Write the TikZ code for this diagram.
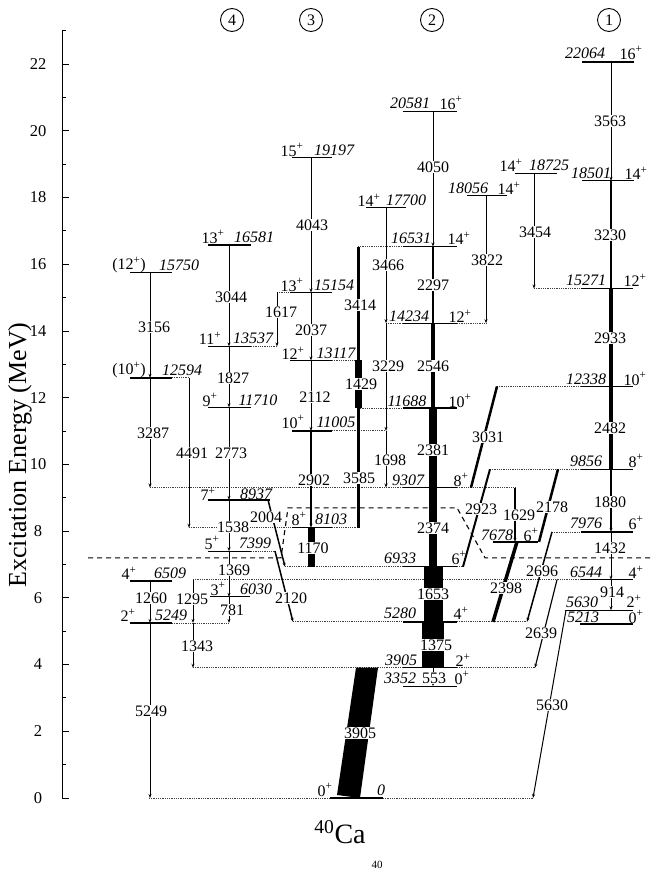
\documentclass[tikz,border=0pt]{standalone}
\usepackage{fontspec}
\setmainfont{Liberation Serif}
\usetikzlibrary{arrows.meta}
\newcommand{\Ey}[1]{\fpeval{798-0.03336*(#1)}}
\newcommand{\fs}{\fontsize{16}{17}\selectfont}
\newcommand{\spin}[1]{#1\textsuperscript{+}}
\newcommand{\lv}[3]{\draw[lev] (#1,{\Ey{#3}}) -- (#2,{\Ey{#3}});}
\newcommand{\dx}[3]{\draw[ext] (#1,{\Ey{#3}}) -- (#2,{\Ey{#3}});}
\newcommand{\tv}[3]{\draw[trn] (#1,{\Ey{#2}}) -- (#1,{\Ey{#3}});}
\newcommand{\tb}[4]{\draw[line width=#4] (#1,{\Ey{#2}}) -- (#1,{\Ey{#3}});}
\newcommand{\ts}[5]{\draw[trn, line width=#5] (#1,{\Ey{#2}}) -- (#3,{\Ey{#4}});}
\newcommand{\tsb}[5]{\draw[line width=#5] (#1,{\Ey{#2}}) -- (#3,{\Ey{#4}});}
\newcommand{\en}[3]{\node[el] (e#1) at (#2,#3) {#1};}
\newcommand{\sn}[4]{\node[sl] (s#1) at (#2,#3) {#4};}
\newcommand{\gn}[3]{\node[gl] (g#1) at (#2,#3) {#1};}
\tikzset{
  lev/.style={line width=1.3pt},
  ext/.style={line width=0.8pt, densely dotted, black!75},
  trn/.style={line width=1pt, -{Stealth[length=4pt,width=3pt]}},
  gl/.style={fill=white, inner sep=0.3pt, font=\fs},
  el/.style={inner sep=0pt, font=\fs\itshape},
  sl/.style={inner sep=0pt, font=\fs},
  colnum/.style={draw, circle, inner sep=0pt, minimum size=23pt, line width=0.9pt, font=\fs}
}
\begin{document}
\begin{tikzpicture}[x=1pt,y=-1pt]
\useasboundingbox (0,0) rectangle (654,870);

% axis
\draw[line width=1pt] (62,798) -- (62,{798-33.36*23});
\foreach \v in {0,2,...,22} {
  \draw[line width=0.9pt] (62,{798-33.36*\v}) -- ++(7,0);
  \node[font=\fontsize{16.5}{17}\selectfont] (t\v) at (38,{798-33.36*\v}) {\v};
}
\foreach \v in {1,3,...,23} \draw[line width=0.9pt] (62,{798-33.36*\v}) -- ++(4,0);
\node[rotate=90, font=\fontsize{26}{26}\selectfont] (ylab) at (20,455) {Excitation Energy (MeV)};

% column numbers
\node[colnum] (c4) at (232,20) {4};
\node[colnum] (c3) at (311,20) {3};
\node[colnum] (c2) at (432,20) {2};
\node[colnum] (c1) at (609,20) {1};

% dotted extensions
\dx{534}{581}{15271} \dx{497}{581}{12338} \dx{490}{581}{9856} \dx{552}{581}{7976}
\dx{193}{581}{6544}
\dx{358}{403}{16531} \dx{386}{403}{14234} \dx{457}{486}{14234} \dx{358}{403}{11688}
\dx{150}{403}{9307} \dx{457}{515}{9307} \dx{285}{403}{6933} \dx{457}{463}{6933}
\dx{293}{403}{5280} \dx{457}{527}{5280} \dx{193}{403}{3905} \dx{457}{535}{3905}
\dx{149}{330}{0} \dx{383}{533}{0}
\dx{277}{290}{15154} \dx{332}{358}{13117} \dx{332}{386}{11005} \dx{189}{292}{8103} \dx{332}{358}{8103}
\dx{251}{277}{13537} \dx{251}{275}{7399}
\dx{172}{189}{12594} \dx{172}{229}{5249}

% dashed line
\draw[line width=1.1pt, dash pattern=on 5pt off 4pt] (88,557.8) -- (281,557.8) -- (288,507.8) -- (457,507.8) -- (485,557.8) -- (654,557.8);

% levels
\lv{582}{634}{22064} \lv{582}{634}{18501} \lv{581}{633}{15271} \lv{581}{633}{12338}
\lv{581}{633}{9856} \lv{581}{633}{7976} \lv{581}{633}{6544} \lv{565}{633}{5630} \lv{580}{633}{5213}
\lv{515}{557}{18725} \lv{467}{507}{18056} \lv{493}{538}{7678}
\lv{403}{457}{20581} \lv{366}{406}{17700} \lv{403}{457}{16531} \lv{403}{457}{14234}
\lv{403}{457}{11688} \lv{403}{457}{9307} \lv{403}{457}{6933} \lv{403}{457}{5280}
\lv{403}{457}{3905} \lv{403}{457}{3352} \lv{330}{383}{0}
\lv{292}{332}{19197} \lv{290}{332}{15154} \lv{290}{332}{13117} \lv{292}{332}{11005} \lv{292}{332}{8103}
\lv{208}{251}{16581} \lv{208}{251}{13537} \lv{208}{251}{11710} \lv{208}{270}{8937}
\lv{208}{251}{7399} \lv{210}{250}{6030}
\lv{130}{172}{15750} \lv{130}{172}{12594} \lv{130}{172}{6509} \lv{130}{172}{5249}

% thin transitions
\tv{611}{22064}{18501} \tv{534}{18725}{15271} \tv{486}{18056}{14234}
\draw[trn, line width=1.3pt] (611,{\Ey{9856}}) -- (611,{\Ey{7976}});
\tv{611}{7976}{6544} \tv{611}{6544}{5630}
\draw[trn, line width=1.3pt] (515,{\Ey{9307}}) -- (515,{\Ey{7678}});
\tv{433}{20581}{16531} \tv{433}{3905}{3352}
\tv{386}{17700}{14234} \tv{386}{14234}{11005} \tv{386}{11005}{9307}
\tv{311}{19197}{15154} \tv{311}{15154}{13117} \tv{311}{13117}{11005}
\draw[trn, line width=1.5pt] (311,{\Ey{11005}}) -- (311,{\Ey{8103}});
\tv{277}{15154}{13537}
\tv{229}{16581}{13537} \tv{229}{13537}{11710} \tv{229}{11710}{8937}
\tv{229}{8937}{7399} \tv{229}{7399}{6030} \tv{229}{6030}{5249}
\tv{189}{12594}{8103} \tv{193}{6544}{5249} \tv{193}{5249}{3905}
\tv{150}{15750}{12594} \tv{150}{12594}{9307} \tv{150}{6509}{5249} \tv{150}{5249}{0}

% thick transitions
\tb{611}{18501}{15271}{2.2pt} \tb{611}{15271}{12338}{4pt} \tb{611}{12338}{9856}{3.5pt}
\tb{433}{16531}{14234}{2pt} \tb{433}{14234}{11688}{3.5pt} \tb{433}{11688}{9307}{8pt}
\tb{433}{9307}{6933}{8pt} \tb{433}{6933}{5280}{19pt} \tb{433}{5280}{3905}{22pt}
\tb{358}{16531}{13117}{3pt} \tb{358}{13117}{11688}{7pt} \tb{358}{11688}{8103}{3pt}
\tb{311}{8103}{6933}{7pt}
\fill (356,{\Ey{3905}}) -- (378,{\Ey{3905}}) -- (360,{\Ey{0}}) -- (337,795) -- cycle;

% slanted transitions
\ts{566}{5630}{533}{0}{1pt}
\ts{557}{6544}{535}{3905}{1.2pt}
\ts{552}{7976}{527}{5280}{1.5pt}
\tsb{517}{7678}{493}{5280}{3.5pt}
\tsb{558}{9856}{539}{7678}{2.5pt}
\tsb{490}{9856}{463}{6933}{2pt}
\tsb{497}{12338}{471}{9307}{2.5pt}
\ts{268}{8937}{285}{6933}{1.5pt}
\ts{275}{7399}{293}{5280}{1.5pt}

% gamma labels
\gn{3563}{610}{121} \gn{3230}{610}{235} \gn{2933}{610}{338} \gn{2482}{610}{428}
\gn{1880}{610}{502} \gn{1432}{610}{548} \gn{914}{612}{592}
\gn{3454}{535}{232} \gn{3822}{487}{260}
\gn{3031}{488}{437} \gn{2923}{481}{509} \gn{2178}{552}{507} \gn{1629}{519}{515}
\gn{2696}{542}{571} \gn{2398}{506}{588} \gn{2639}{541}{633} \gn{5630}{552}{705}
\gn{4050}{433}{167} \gn{2297}{433}{285} \gn{2546}{433}{366} \gn{2381}{433}{450}
\gn{2374}{433}{528} \gn{1653}{433}{594} \gn{1375}{436}{645} \gn{553}{434}{678}
\gn{3466}{388}{265} \gn{3229}{388}{366} \gn{1698}{390}{460}
\gn{3414}{360}{305} \gn{1429}{361}{384} \gn{3585}{359}{478}
\gn{3905}{360}{733}
\gn{4043}{312}{225} \gn{2037}{311}{330} \gn{2112}{315}{397} \gn{2902}{314}{480} \gn{1170}{313}{548}
\gn{1617}{281}{312} \gn{2004}{266}{517} \gn{2120}{291}{598}
\gn{3044}{231}{297} \gn{1827}{233}{378} \gn{2773}{231}{453} \gn{1538}{233}{527}
\gn{1369}{234}{570} \gn{781}{232}{610}
\gn{4491}{192}{453} \gn{1295}{192}{599} \gn{1343}{197}{646}
\gn{3156}{154}{327} \gn{3287}{153}{433} \gn{1260}{151}{598} \gn{5249}{151}{711}

% level labels, column 1
\en{22064}{585}{53} \sn{22064}{631}{53}{\spin{16}}
\en{18501}{591}{173} \sn{18501}{636}{173}{\spin{14}}
\sn{18725}{511}{165}{\spin{14}} \en{18725}{549}{165}
\en{18056}{468}{188} \sn{18056}{509}{188}{\spin{14}}
\en{15271}{586}{280} \sn{15271}{635}{280}{\spin{12}}
\en{12338}{586}{379} \sn{12338}{635}{379}{\spin{10}}
\en{9856}{586}{461} \sn{9856}{636}{461}{\spin{8}}
\en{7976}{586}{523} \sn{7976}{636}{523}{\spin{6}}
\en{6544}{586}{572} \sn{6544}{636}{572}{\spin{4}}
\en{5630}{582}{602} \sn{5630}{634}{601}{\spin{2}}
\en{5213}{583}{617} \sn{5213}{636}{617}{\spin{0}}
\en{7678}{497}{535} \sn{7678}{531}{535}{\spin{6}}
% column 2
\en{20581}{410}{103} \sn{20581}{451}{103}{\spin{16}}
\sn{17700}{369}{200}{\spin{14}} \en{17700}{406}{200}
\en{16531}{411}{238} \sn{16531}{459}{238}{\spin{14}}
\en{14234}{409}{316} \sn{14234}{460}{316}{\spin{12}}
\en{11688}{407}{401} \sn{11688}{460}{401}{\spin{10}}
\en{9307}{408}{480} \sn{9307}{461}{480}{\spin{8}}
\en{6933}{400}{558} \sn{6933}{459}{558}{\spin{6}}
\en{5280}{400}{613} \sn{5280}{461}{613}{\spin{4}}
\en{3905}{401}{660} \sn{3905}{463}{660}{\spin{2}}
\en{3352}{400}{678} \sn{3352}{462}{678}{\spin{0}}
\sn{0}{325}{790}{\spin{0}} \en{0}{381}{790}
% column 3
\sn{19197}{292}{150}{\spin{15}} \en{19197}{334}{150}
\sn{15154}{292}{285}{\spin{13}} \en{15154}{334}{285}
\sn{13117}{293}{353}{\spin{12}} \en{13117}{336}{353}
\sn{11005}{293}{422}{\spin{10}} \en{11005}{336}{422}
\sn{8103}{299}{519}{\spin{8}} \en{8103}{331}{519}
% column 4
\sn{16581}{213}{237}{\spin{13}} \en{16581}{254}{237}
\sn{13537}{210}{338}{\spin{11}} \en{13537}{253}{338}
\sn{11710}{210}{400}{\spin{9}} \en{11710}{258}{400}
\sn{8937}{208}{494}{\spin{7}} \en{8937}{256}{494}
\sn{7399}{212}{543}{\spin{5}} \en{7399}{255}{543}
\sn{6030}{218}{589}{\spin{3}} \en{6030}{256}{589}
% left column
\sn{15750}{129}{265}{(\spin{12})} \en{15750}{179}{265}
\sn{12594}{129}{370}{(\spin{10})} \en{12594}{182}{370}
\sn{6509}{129}{573}{\spin{4}} \en{6509}{170}{573}
\sn{5249}{128}{615}{\spin{2}} \en{5249}{171}{615}

% nucleus label
\node[anchor=base, inner sep=0pt, font=\fontsize{28}{28}\selectfont] (nuc) at (340,843) {\textsuperscript{40}Ca};
\node[anchor=south, inner sep=0pt, font=\fontsize{11}{11}\selectfont] (cut) at (377,869) {40};
\end{tikzpicture}
\end{document}
